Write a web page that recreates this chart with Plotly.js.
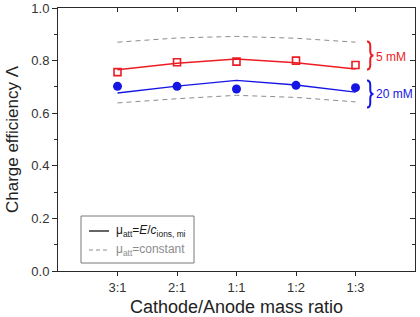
<!DOCTYPE html>
<html>
<head>
<meta charset="utf-8">
<script src="https://cdn.plot.ly/plotly-3.0.1.min.js"></script>
<style>
  html, body { margin: 0; padding: 0; background: #fff; }
  #chart { width: 420px; height: 317px; }
</style>
</head>
<body>
<div id="chart"></div>
<script>
// Cathode/anode mass ratio categories
const ratioLabels = ['3:1', '2:1', '1:1', '1:2', '1:3'];
const ratioPos = [1, 2, 3, 4, 5];

// Measured charge efficiency (symbols)
const exp5mM  = [0.756, 0.794, 0.796, 0.800, 0.783];
const exp20mM = [0.702, 0.702, 0.692, 0.706, 0.697];

// Model with mu_att = E / c_ions,mi (solid lines)
const model5mM  = [0.765, 0.790, 0.806, 0.792, 0.768];
const model20mM = [0.677, 0.703, 0.725, 0.707, 0.680];

// Model with constant mu_att (dashed lines)
const constUpper = [0.870, 0.886, 0.892, 0.885, 0.870];
const constLower = [0.639, 0.655, 0.668, 0.660, 0.643];

const yTicks = [0, 0.2, 0.4, 0.6, 0.8, 1.0];

// page geometry
const W = 420, H = 317;
const M = { l: 58, r: 5, t: 8, b: 46 };
const PW = W - M.l - M.r, PH = H - M.t - M.b;
const XR = [0, 6], YR = [0, 1];
const px = v => (v - M.l) / PW;              // pixel -> paper x
const py = v => (H - M.b - v) / PH;          // pixel -> paper y
const dx = v => XR[0] + (v - M.l) / PW * (XR[1] - XR[0]);   // pixel -> data x
const dy = v => YR[0] + (H - M.b - v) / PH * (YR[1] - YR[0]); // pixel -> data y

const RED = 'rgb(236,28,36)';
const BLUE = 'rgb(22,22,228)';
const GREY = 'rgb(140,140,140)';
const AX = '#2a2a2a';
const FONT = 'Liberation Sans, Arial, sans-serif';

const traces = [
  { x: ratioPos, y: constUpper, mode: 'lines', xaxis: 'x2', yaxis: 'y2',
    line: { color: GREY, width: 1, dash: '5px,4px' }, hoverinfo: 'skip' },
  { x: ratioPos, y: constLower, mode: 'lines', xaxis: 'x2', yaxis: 'y2',
    line: { color: GREY, width: 1, dash: '5px,4px' }, hoverinfo: 'skip' },
  { x: ratioPos, y: model5mM, mode: 'lines', line: { color: RED, width: 1.4 } },
  { x: ratioPos, y: model20mM, mode: 'lines', line: { color: BLUE, width: 1.4 } },
  { x: ratioPos, y: exp5mM, mode: 'markers',
    marker: { symbol: 'square-open', size: 7, color: RED, line: { color: RED, width: 1.6 } } },
  { x: ratioPos, y: exp20mM, mode: 'markers',
    marker: { symbol: 'circle', size: 9, color: BLUE } }
];

// curly brace "}" as a path in data coordinates, from pixel positions
function brace(x0p, x1p, ytp, ybp, color) {
  const x0 = dx(x0p), x1 = dx(x1p), xm = dx((x0p + x1p) / 2);
  const yt = dy(ytp), yb = dy(ybp), ym = (yt + yb) / 2;
  const d = dy(0) - dy(4.5);
  const path = `M${x0},${yt} Q${xm},${yt} ${xm},${yt - d} L${xm},${ym + d} ` +
               `Q${xm},${ym} ${x1},${ym} Q${xm},${ym} ${xm},${ym - d} ` +
               `L${xm},${yb + d} Q${xm},${yb} ${x0},${yb}`;
  return { type: 'path', xref: 'x', yref: 'y', path: path,
           line: { color: color, width: 2 } };
}

const shapes = [
  brace(367, 373.5, 41.5, 69.5, RED),
  brace(367, 373.5, 80.5, 107.5, BLUE),
  // legend frame and samples
  { type: 'rect', xref: 'paper', yref: 'paper', x0: px(81), x1: px(194), y0: py(263), y1: py(216),
    line: { color: 'rgb(120,120,120)', width: 1 }, fillcolor: 'rgba(0,0,0,0)' },
  { type: 'line', xref: 'paper', yref: 'paper', x0: px(89), x1: px(109), y0: py(231), y1: py(231),
    line: { color: '#111', width: 1.3 } },
  { type: 'line', xref: 'paper', yref: 'paper', x0: px(89), x1: px(109), y0: py(250), y1: py(250),
    line: { color: GREY, width: 1, dash: '4px,3px' } }
];

const annotations = [
  { xref: 'paper', yref: 'paper', x: px(114), y: py(231), xanchor: 'left', yanchor: 'middle',
    showarrow: false, font: { family: FONT, size: 12, color: '#1a1a1a' },
    text: 'μ<sub>att</sub>=<i>E</i>/<i>c</i><sub>ions, mi</sub>' },
  { xref: 'paper', yref: 'paper', x: px(114), y: py(250), xanchor: 'left', yanchor: 'middle',
    showarrow: false, font: { family: FONT, size: 12, color: GREY },
    text: 'μ<sub>att</sub>=constant' },
  { xref: 'paper', yref: 'paper', x: px(374), y: py(57), xanchor: 'left', yanchor: 'middle',
    showarrow: false, font: { family: FONT, size: 12, color: RED }, text: '5 mM' },
  { xref: 'paper', yref: 'paper', x: px(374), y: py(94), xanchor: 'left', yanchor: 'middle',
    showarrow: false, font: { family: FONT, size: 12, color: BLUE }, text: '20 mM' }
];

const baseAxis = {
  showgrid: false, zeroline: false, showline: true,
  linecolor: AX, linewidth: 1, tickcolor: AX, tickwidth: 1
};

const layout = {
  width: W, height: H,
  margin: M,
  paper_bgcolor: '#fff', plot_bgcolor: '#fff',
  showlegend: false,
  font: { family: FONT, color: AX },
  xaxis: Object.assign({}, baseAxis, {
    range: XR, tickvals: ratioPos, ticktext: ratioLabels,
    ticks: 'outside', ticklen: 4,
    tickfont: { family: FONT, size: 13, color: '#333' },
    title: { text: 'Cathode/Anode mass ratio', font: { family: FONT, size: 18, color: '#222' }, standoff: 8 }
  }),
  yaxis: Object.assign({}, baseAxis, {
    range: YR, tickvals: yTicks, tickformat: '.1f',
    ticks: 'outside', ticklen: 5,
    minor: { dtick: 0.1, ticks: 'outside', ticklen: 3, tickcolor: AX },
    tickfont: { family: FONT, size: 13, color: '#333' },
    title: { text: 'Charge efficiency Λ', font: { family: FONT, size: 17, color: '#222' }, standoff: 8 }
  }),
  xaxis2: Object.assign({}, baseAxis, {
    overlaying: 'x', side: 'top', anchor: 'y2', range: XR, tickvals: ratioPos,
    ticks: 'inside', ticklen: 4, showticklabels: false
  }),
  yaxis2: Object.assign({}, baseAxis, {
    overlaying: 'y', side: 'right', anchor: 'x2', range: YR, tickvals: yTicks,
    ticks: 'inside', ticklen: 5, showticklabels: false,
    minor: { dtick: 0.1, ticks: 'inside', ticklen: 3, tickcolor: AX }
  }),
  shapes: shapes,
  annotations: annotations
};

Plotly.newPlot('chart', traces, layout, { staticPlot: true, displayModeBar: false });
</script>
</body>
</html>
